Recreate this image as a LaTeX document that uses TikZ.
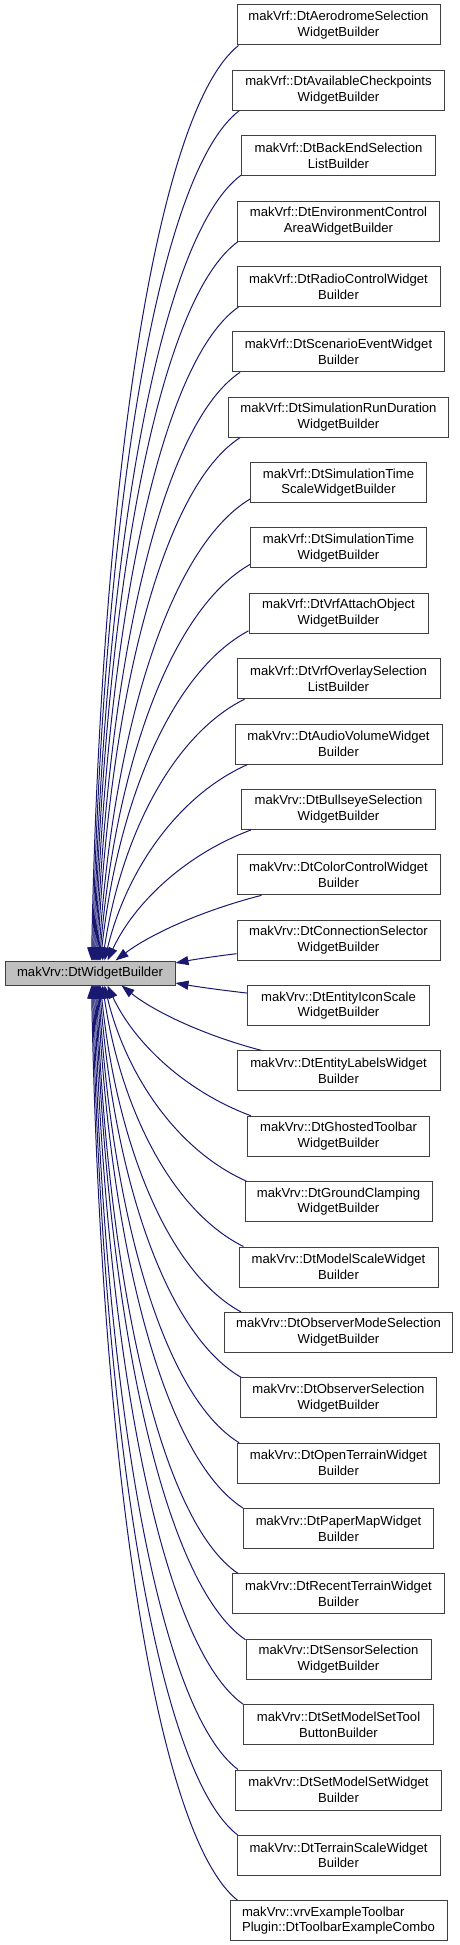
\documentclass[tikz,border=0pt]{standalone}
\usepackage{fontspec}
\setmainfont{Liberation Sans}
\usetikzlibrary{arrows.meta,calc}
\definecolor{edgeblue}{HTML}{191970}
\definecolor{boxline}{HTML}{404040}
\definecolor{basefill}{HTML}{BFBFBF}
\begin{document}
\begin{tikzpicture}[x=1pt,y=-1pt,
  cls/.style={draw=boxline, line width=1pt, minimum height=40pt, inner sep=0pt,
    align=center, font=\fontsize{13.1}{15.7}\selectfont},
  basecls/.style={cls, fill=basefill, minimum height=24pt, minimum width=170pt},
  edge/.style={draw=edgeblue, line width=1pt, -{Triangle[length=13pt,width=9pt]}}]
\useasboundingbox (0,0) rectangle (459,1945);

\node[basecls] (base) at (90,973) {makVrv::DtWidgetBuilder};

\node[cls, minimum width=203pt] (n1) at (338.5,25) {makVrf::DtAerodromeSelection\\WidgetBuilder};
\node[cls, minimum width=212pt] (n2) at (338.5,90.37) {makVrf::DtAvailableCheckpoints\\WidgetBuilder};
\node[cls, minimum width=194pt] (n3) at (338.5,155.74) {makVrf::DtBackEndSelection\\ListBuilder};
\node[cls, minimum width=202pt] (n4) at (338.5,221.11) {makVrf::DtEnvironmentControl\\AreaWidgetBuilder};
\node[cls, minimum width=203pt] (n5) at (338.5,286.48) {makVrf::DtRadioControlWidget\\Builder};
\node[cls, minimum width=212pt] (n6) at (338.5,351.85) {makVrf::DtScenarioEventWidget\\Builder};
\node[cls, minimum width=220pt] (n7) at (338.5,417.22) {makVrf::DtSimulationRunDuration\\WidgetBuilder};
\node[cls, minimum width=176pt] (n8) at (338.5,482.59) {makVrf::DtSimulationTime\\ScaleWidgetBuilder};
\node[cls, minimum width=176pt] (n9) at (338.5,547.96) {makVrf::DtSimulationTime\\WidgetBuilder};
\node[cls, minimum width=179pt] (n10) at (338.5,613.33) {makVrf::DtVrfAttachObject\\WidgetBuilder};
\node[cls, minimum width=203pt] (n11) at (338.5,678.7) {makVrf::DtVrfOverlaySelection\\ListBuilder};
\node[cls, minimum width=207pt] (n12) at (338.5,744.07) {makVrv::DtAudioVolumeWidget\\Builder};
\node[cls, minimum width=194pt] (n13) at (338.5,809.44) {makVrv::DtBullseyeSelection\\WidgetBuilder};
\node[cls, minimum width=203pt] (n14) at (338.5,874.81) {makVrv::DtColorControlWidget\\Builder};
\node[cls, minimum width=203pt] (n15) at (338.5,940.18) {makVrv::DtConnectionSelector\\WidgetBuilder};
\node[cls, minimum width=182pt] (n16) at (338.5,1005.55) {makVrv::DtEntityIconScale\\WidgetBuilder};
\node[cls, minimum width=203pt] (n17) at (338.5,1070.92) {makVrv::DtEntityLabelsWidget\\Builder};
\node[cls, minimum width=182pt] (n18) at (338.5,1136.29) {makVrv::DtGhostedToolbar\\WidgetBuilder};
\node[cls, minimum width=187pt] (n19) at (338.5,1201.66) {makVrv::DtGroundClamping\\WidgetBuilder};
\node[cls, minimum width=199pt] (n20) at (338.5,1267.03) {makVrv::DtModelScaleWidget\\Builder};
\node[cls, minimum width=228pt] (n21) at (338.5,1332.4) {makVrv::DtObserverModeSelection\\WidgetBuilder};
\node[cls, minimum width=196pt] (n22) at (338.5,1397.77) {makVrv::DtObserverSelection\\WidgetBuilder};
\node[cls, minimum width=202pt] (n23) at (338.5,1463.14) {makVrv::DtOpenTerrainWidget\\Builder};
\node[cls, minimum width=190pt] (n24) at (338.5,1528.51) {makVrv::DtPaperMapWidget\\Builder};
\node[cls, minimum width=212pt] (n25) at (338.5,1593.88) {makVrv::DtRecentTerrainWidget\\Builder};
\node[cls, minimum width=185pt] (n26) at (338.5,1659.25) {makVrv::DtSensorSelection\\WidgetBuilder};
\node[cls, minimum width=190pt] (n27) at (338.5,1724.62) {makVrv::DtSetModelSetTool\\ButtonBuilder};
\node[cls, minimum width=206pt] (n28) at (338.5,1789.99) {makVrv::DtSetModelSetWidget\\Builder};
\node[cls, minimum width=203pt] (n29) at (338.5,1855.36) {makVrv::DtTerrainScaleWidget\\Builder};
\node[cls, minimum width=217pt, align=left] (n30) at (338.5,1920.73) {makVrv::vrvExampleToolbar\\Plugin::DtToolbarExampleCombo};

\foreach \i/\ca/\cdx/\cdy/\ta/\tdx/\tdy in {
  1/south west/2/0/north west/87/0,
  2/south west/7/0/north west/88/0,
  3/south west/0/-1/north west/89/0,
  4/south west/1/0/north west/90/0,
  5/south west/2/0/north west/91/0,
  6/south west/8/0/north west/92/0,
  7/south west/12/0/north west/93/0,
  8/south west/0/-4/north west/94/0,
  9/south west/0/-4/north west/95/0,
  10/south west/0/-3/north west/96/0,
  11/south west/8/0/north west/98/0,
  12/south west/13/0/north west/100/0,
  13/south west/10/0/north west/103/0,
  14/south west/25/0/north west/111/0,
  15/south west/0/-7/east/0/-10,
  16/north west/0/8/east/0/10,
  17/north west/25/0/south west/117/0,
  18/north west/4/0/south west/103/0,
  19/north west/2/0/south west/100/0,
  20/north west/5/0/south west/98/0,
  21/north west/17/0/south west/96/0,
  22/north west/1/0/south west/95/0,
  23/north west/2/0/south west/94/0,
  24/north west/0/0/south west/93/0,
  25/north west/6/0/south west/92/0,
  26/north west/0/1/south west/91/0,
  27/north west/0/0/south west/90/0,
  28/north west/3/0/south west/89/0,
  29/north west/1/0/south west/88/0,
  30/north west/8/0/south west/87/0}{
  \draw[edge] let \p1=($(n\i.\ca)+(\cdx,\cdy)$), \p2=($(base.\ta)+(\tdx,\tdy)$),
      \n1={\x1-\x2}, \n2={\y1-\y2}, \n3={abs(\n2)/(abs(\n2)+abs(\n1))} in
    (\p1) .. controls ({\x1-(0.333+0.267*\n3)*\n1},{\y1-(0.333-0.303*\n3)*\n2})
             and ({\x2+(0.333-0.313*\n3)*\n1},{\y2+(0.333+0.217*\n3)*\n2}) .. (\p2);
}
\end{tikzpicture}
\end{document}
